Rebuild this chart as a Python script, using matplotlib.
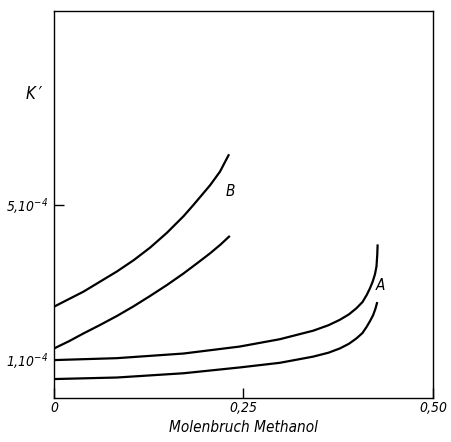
import matplotlib
matplotlib.use("Agg")
import matplotlib.pyplot as plt

# K' values in units of 1e-4, x = mole fraction methanol
b_upper_x = [0.0, 0.017, 0.039, 0.061, 0.083, 0.105, 0.127, 0.149, 0.171, 0.184, 0.206, 0.219, 0.231]
b_upper_y = [2.36, 2.53, 2.75, 3.01, 3.27, 3.56, 3.89, 4.27, 4.70, 4.99, 5.50, 5.85, 6.30]
b_lower_x = [0.0, 0.020, 0.039, 0.061, 0.083, 0.105, 0.127, 0.149, 0.171, 0.190, 0.206, 0.220, 0.232]
b_lower_y = [1.28, 1.47, 1.67, 1.89, 2.12, 2.37, 2.64, 2.92, 3.22, 3.50, 3.74, 3.97, 4.19]

a_upper_x = [0.0, 0.083, 0.171, 0.245, 0.298, 0.342, 0.362, 0.377, 0.389, 0.399, 0.407,
             0.4125, 0.417, 0.4205, 0.4235, 0.4255, 0.4265, 0.427]
a_upper_y = [0.98, 1.03, 1.15, 1.33, 1.52, 1.74, 1.88, 2.02, 2.16, 2.32, 2.48,
             2.66, 2.84, 3.01, 3.20, 3.40, 3.70, 3.97]
a_lower_x = [0.0, 0.083, 0.171, 0.245, 0.298, 0.342, 0.362, 0.377, 0.389, 0.399, 0.407,
             0.4125, 0.417, 0.421, 0.424, 0.4265]
a_lower_y = [0.49, 0.53, 0.64, 0.79, 0.91, 1.07, 1.17, 1.28, 1.40, 1.54, 1.68,
             1.84, 1.99, 2.14, 2.30, 2.48]

x_ticks = [0, 0.25, 0.5]
x_tick_labels = ["0", "0,25", "0,50"]
y_ticks = [1, 5]
y_tick_labels = ["1,10$^{-4}$", "5,10$^{-4}$"]

plt.rcParams["font.family"] = ["DejaVu Sans"]
plt.rcParams["font.stretch"] = "condensed"
plt.rcParams["font.style"] = "italic"
plt.rcParams["mathtext.fontset"] = "custom"
plt.rcParams["mathtext.rm"] = "DejaVu Sans:italic"
plt.rcParams["mathtext.it"] = "DejaVu Sans:italic"

fig = plt.figure(figsize=(4.51, 4.42), dpi=100)
ax = fig.add_axes([0.1197, 0.0995, 0.8403, 0.8755])

for xs, ys in [(b_upper_x, b_upper_y), (b_lower_x, b_lower_y),
               (a_upper_x, a_upper_y), (a_lower_x, a_lower_y)]:
    ax.plot(xs, ys, color="black", lw=1.6, solid_capstyle="butt",
            solid_joinstyle="round")

ax.text(0.232, 5.33, "B", fontsize=11, ha="center", va="center")
ax.text(0.431, 2.92, "A", fontsize=11, ha="center", va="center")

ax.set_xlim(0, 0.5)
ax.set_ylim(0, 10)
ax.set_xticks(x_ticks)
ax.set_xticklabels(x_tick_labels, fontsize=10)
ax.set_yticks(y_ticks)
ax.set_yticklabels(y_tick_labels, fontsize=10)
ax.tick_params(direction="in", length=7, width=1)
ax.tick_params(axis="x", pad=2)
ax.tick_params(axis="y", pad=4)
ax.yaxis.get_major_ticks()[0].tick1line.set_visible(False)

for s in ax.spines.values():
    s.set_linewidth(1.0)

ax.set_xlabel("Molenbruch Methanol", fontsize=11, labelpad=4)
fig.text(34 / 451, 1 - 94 / 442, "K\u2009\u2032", fontsize=12, ha="center", va="center")

fig.savefig("out.png", dpi=100)
